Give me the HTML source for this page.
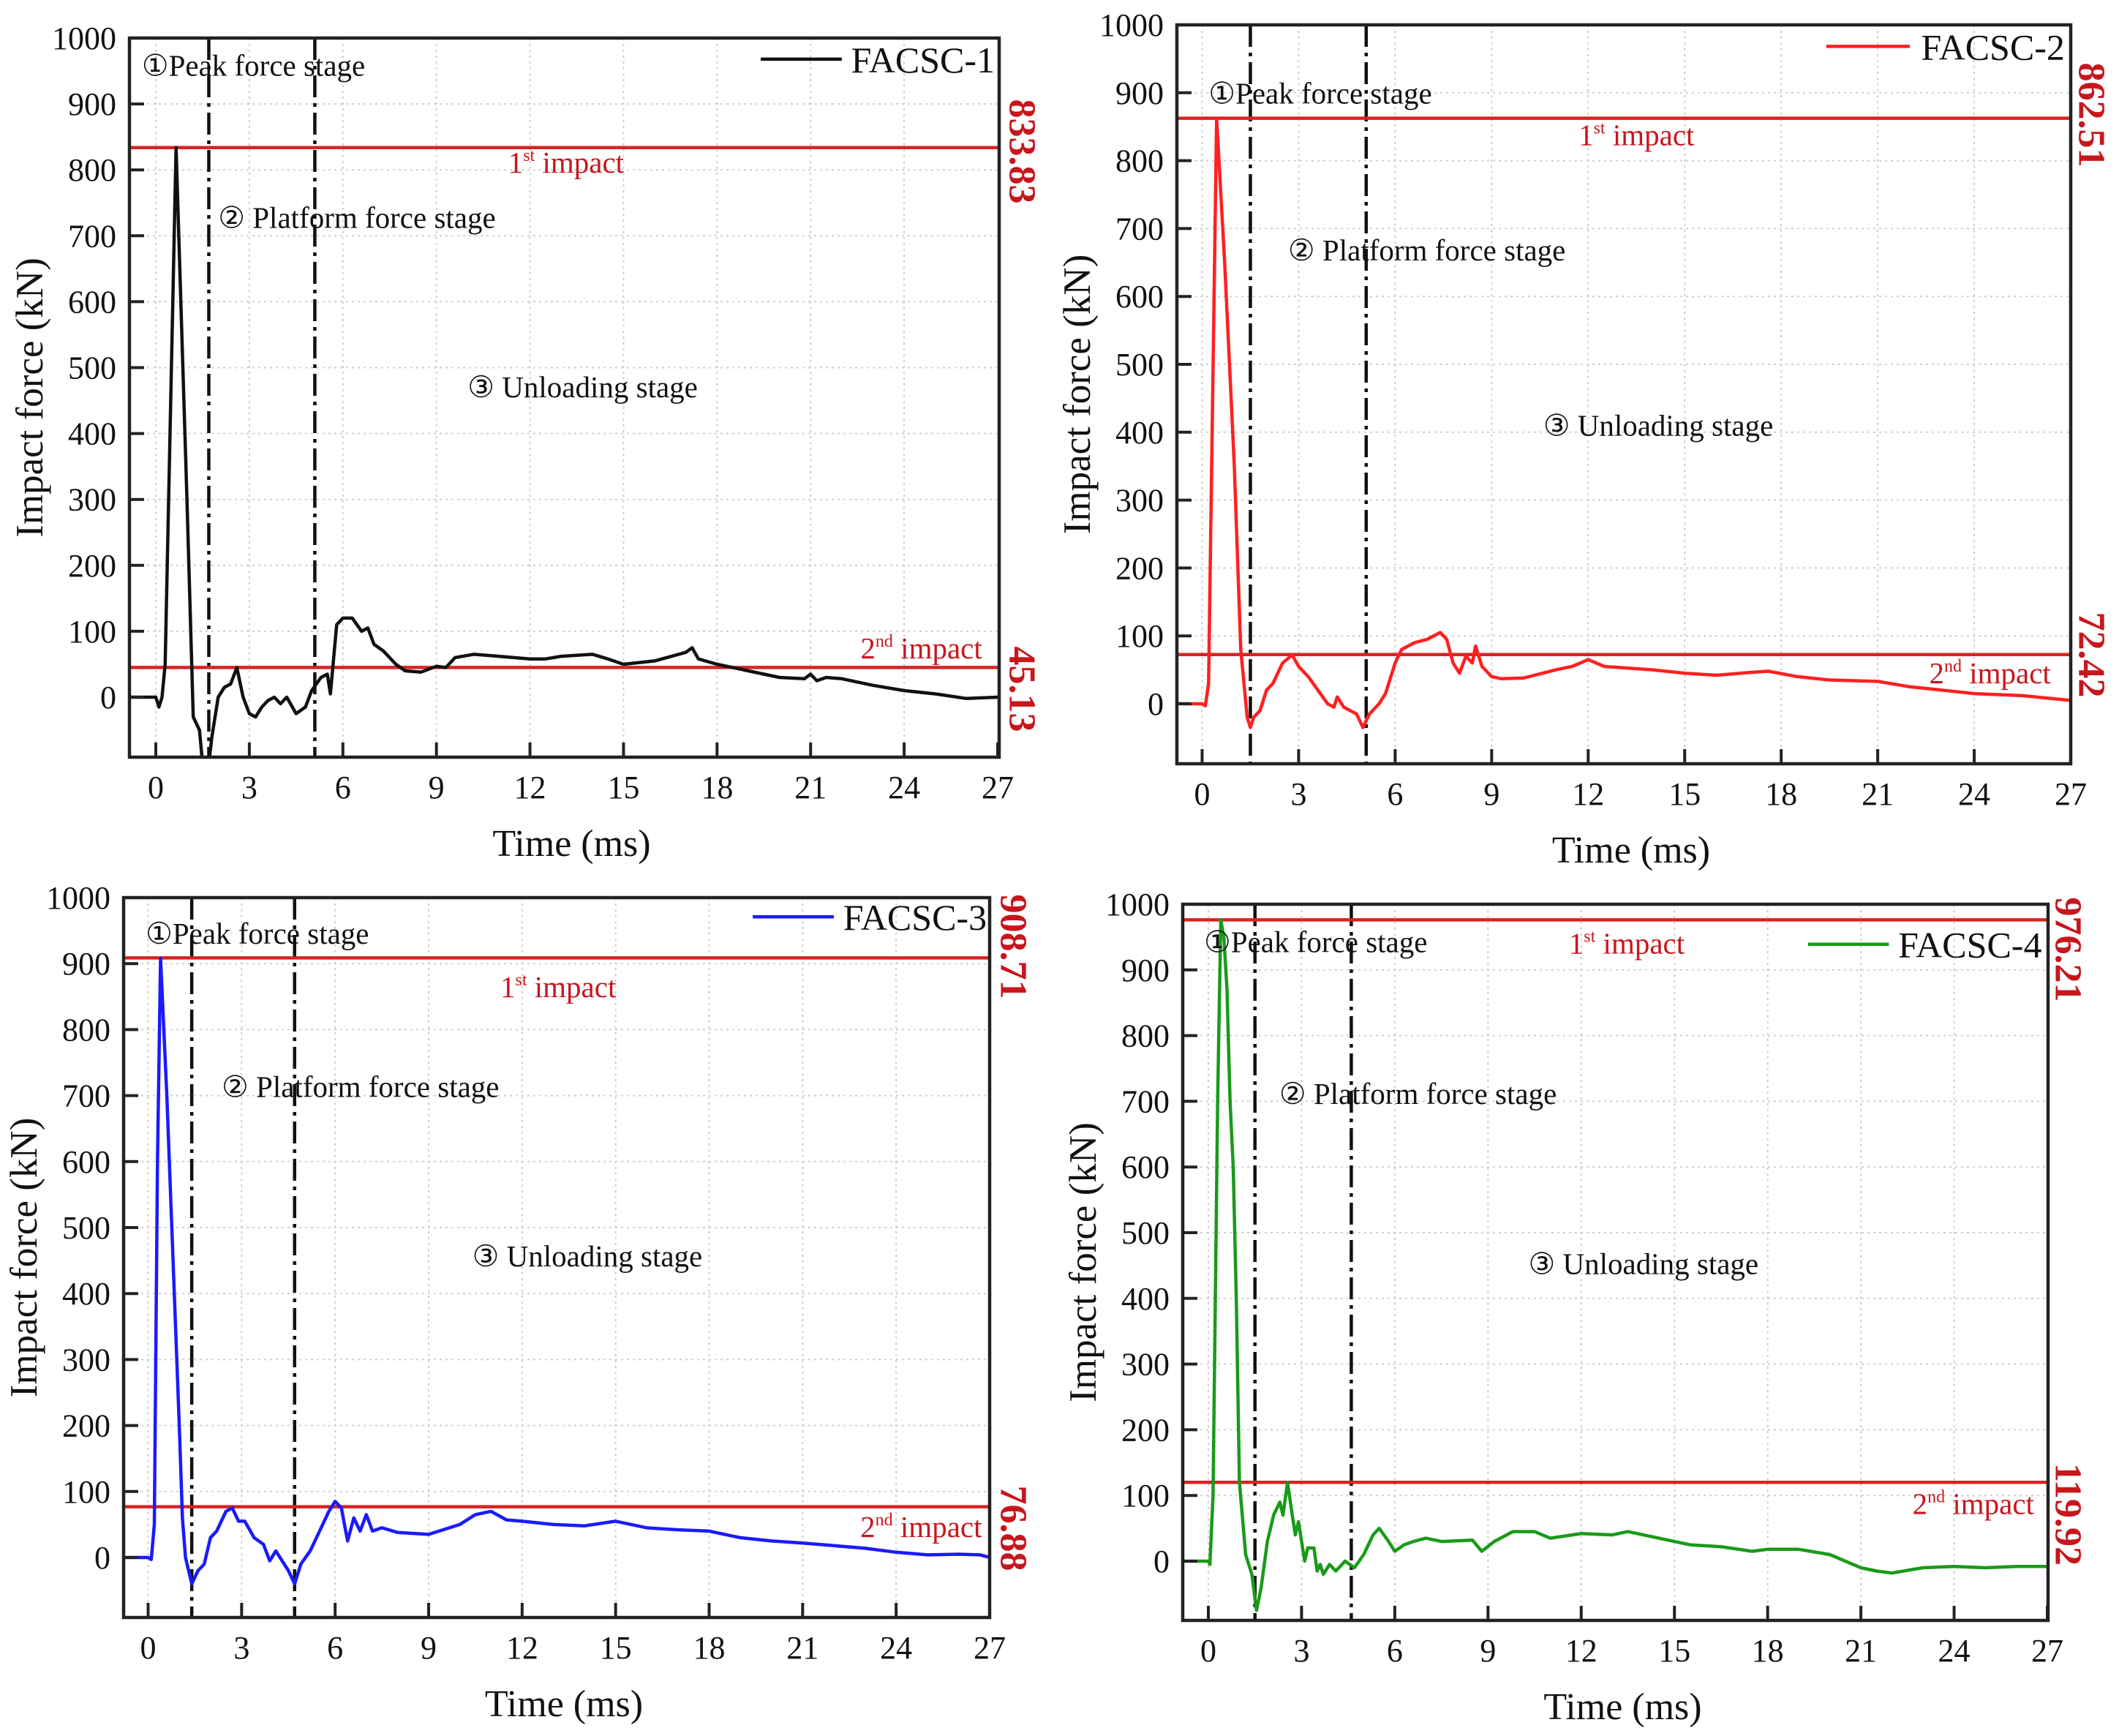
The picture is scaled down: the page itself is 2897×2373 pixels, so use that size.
<!DOCTYPE html>
<html><head><meta charset="utf-8"><style>
html,body{margin:0;padding:0;background:#fff;overflow:hidden}
svg{display:block}
text{font-family:"Liberation Serif","DejaVu Serif",serif}
</style></head><body>
<svg id="chart" xmlns="http://www.w3.org/2000/svg" width="2897" height="2373" viewBox="0 0 2897 2373"></svg>
<script>
// ---- data ----
const xTicks = [0,3,6,9,12,15,18,21,24,27];
const yTicks = [0,100,200,300,400,500,600,700,800,900,1000];
const names = ["FACSC-1","FACSC-2","FACSC-3","FACSC-4"];
const colors = ["#111111","#ff2020","#1a1aff","#1a9a1a"];
const impact1 = [833.83, 862.51, 908.71, 976.21];
const impact2 = [45.13, 72.42, 76.88, 119.92];
const stageLines = [[1.7,5.1],[1.5,5.1],[1.4,4.7],[1.5,4.6]];

const t1 = [-0.8,0,0.1,0.2,0.3,0.65,1.0,1.2,1.4,1.5,1.7,1.8,2.0,2.2,2.4,2.6,2.8,3.0,3.2,3.4,3.6,3.8,4.0,4.2,4.5,4.8,5.0,5.3,5.5,5.6,5.8,6.0,6.3,6.6,6.8,7.0,7.3,7.7,8.0,8.5,9.0,9.3,9.6,10.2,11,12,12.5,13,14,14.5,15,16,17,17.2,17.4,18,19,20,20.8,21,21.2,21.5,22,23,24,25,26,27];
const f1 = [0,0,-15,0,50,834,300,-30,-50,-100,-100,-60,0,15,20,45,0,-25,-30,-15,-5,0,-10,0,-25,-15,10,30,35,5,110,120,120,100,105,80,70,50,40,38,47,45,60,65,62,58,58,62,65,58,50,55,68,75,58,50,40,30,28,35,25,30,28,18,10,5,-2,0];

const t2 = [-0.8,0,0.1,0.2,0.45,0.7,1.0,1.2,1.4,1.5,1.6,1.8,2.0,2.2,2.5,2.8,3.0,3.3,3.6,3.9,4.1,4.2,4.4,4.6,4.8,5.0,5.2,5.5,5.7,6.0,6.2,6.6,7.0,7.4,7.6,7.8,8.0,8.2,8.4,8.5,8.7,9.0,9.3,10,11,11.5,12,12.5,14,15,16,17,17.6,18.5,19.5,21,22,23,24,25.5,27];
const f2 = [0,0,-3,30,862,650,350,80,-20,-35,-20,-10,20,30,60,72,55,40,20,0,-5,10,-5,-10,-15,-35,-15,0,15,60,80,90,95,105,95,60,45,70,60,85,55,40,37,38,50,55,65,55,50,45,42,46,48,40,35,33,25,20,15,12,5];

const t3 = [-0.8,0,0.1,0.2,0.3,0.4,0.6,0.8,1.0,1.1,1.2,1.4,1.6,1.8,2.0,2.2,2.5,2.7,2.9,3.1,3.4,3.7,3.9,4.1,4.3,4.5,4.7,4.9,5.2,5.5,5.8,6.0,6.2,6.4,6.6,6.8,7.0,7.2,7.5,8,9,10,10.5,11,11.5,12,13,14,15,16,17,18,19,20,21,22,23,24,25,26,26.7,27];
const f3 = [0,0,-3,50,600,908,700,450,200,60,0,-40,-20,-10,30,40,70,75,55,55,30,20,-5,10,-5,-20,-40,-10,10,40,70,85,75,25,60,40,65,40,45,38,35,50,65,70,57,55,50,48,55,45,42,40,30,25,22,18,14,8,4,5,4,0];

const t4 = [-0.8,0,0.05,0.15,0.3,0.4,0.5,0.6,0.7,0.8,0.9,1.0,1.2,1.4,1.55,1.7,1.9,2.1,2.3,2.4,2.55,2.7,2.8,2.9,3.1,3.2,3.4,3.5,3.6,3.7,3.9,4.1,4.4,4.7,5.0,5.3,5.5,5.8,6.0,6.3,6.6,7.0,7.5,8.5,8.8,9.2,9.8,10.5,11,12,13,13.5,14,15,15.5,16.5,17.5,18,19,20,21,21.5,22,23,24,25,26,27];
const f4 = [0,0,-5,100,700,976,950,870,700,600,400,120,10,-20,-75,-40,30,70,90,70,120,70,40,60,0,20,20,-15,-5,-20,-5,-15,0,-10,10,40,50,30,15,25,30,35,30,32,15,30,45,45,35,42,40,45,40,30,25,22,15,18,18,10,-10,-15,-18,-10,-8,-10,-8,-8];

const seriesT = [t1,t2,t3,t4];
const seriesF = [f1,f2,f3,f4];

// ---- layout (pixel geometry) ----
const panels = [
  {L:177,R:1366,T:52,B:1035,x0:213,x27:1364,y0:953,y1000:52, valX:1397, v1Y:207, v2Y:942,
   ann:{peak:[-0.45,943],plat:[2.0,712],unl:[10.0,455],i1:[11.3,796],i2:[22.6,59],leg:[22.3,948],legL:[19.4,22.0]}},
  {L:1609,R:2831,T:34,B:1044,x0:1643.5,x27:2831,y0:962,y1000:34, valX:2859, v1Y:157, v2Y:895,
   ann:{peak:[0.2,884],plat:[2.67,653],unl:[10.6,395],i1:[11.7,823],i2:[22.6,30],leg:[22.35,949],legL:[19.4,22.0]}},
  {L:169,R:1353,T:1227,B:2211,x0:202.5,x27:1353,y0:2129,y1000:1227, valX:1385, v1Y:1294, v2Y:2089,
   ann:{peak:[-0.08,930],plat:[2.36,698],unl:[10.4,441],i1:[11.3,849],i2:[22.85,31],leg:[22.3,951],legL:[19.4,22.0]}},
  {L:1617,R:2800,T:1236,B:2215,x0:1652,x27:2799,y0:2134,y1000:1236, valX:2827, v1Y:1298, v2Y:2070,
   ann:{peak:[-0.14,927],plat:[2.28,696],unl:[10.3,437],i1:[11.6,925],i2:[22.66,72],leg:[22.2,919],legL:[19.3,21.9]}}
];

const NS = "http://www.w3.org/2000/svg";
const svg = document.getElementById("chart");
function mk(tag, attrs, parent){
  const e = document.createElementNS(NS, tag);
  for (const k in attrs) e.setAttribute(k, attrs[k]);
  (parent||svg).appendChild(e);
  return e;
}
const defs = mk("defs", {});

panels.forEach((p, i) => {
  const sx = t => p.x0 + (t/27)*(p.x27 - p.x0);
  const sy = v => p.y0 - (v/1000)*(p.y0 - p.y1000);
  const cp = mk("clipPath", {id:"clip"+i}, defs);
  mk("rect", {x:p.L, y:p.T, width:p.R-p.L, height:p.B-p.T}, cp);

  const g = mk("g", {});
  
  

  yTicks.forEach(v => {
    if (v === 0 || v === 1000) return;
    const l = mk("line", {x1:p.L, x2:p.R, y1:sy(v), y2:sy(v), stroke:"#cfcfcf", "stroke-width":2, "stroke-dasharray":"3,5"}, g);
    
    
  });
  xTicks.forEach(t => {
    if (t === 27) return;
    const l = mk("line", {x1:sx(t), x2:sx(t), y1:p.T, y2:p.B, stroke:"#cfcfcf", "stroke-width":2, "stroke-dasharray":"3,5"}, g);
    
    
  });

  stageLines[i].forEach(t => {
    const l = mk("line", {x1:sx(t), x2:sx(t), y1:p.T, y2:p.B, stroke:"#111", "stroke-width":4.5, "stroke-dasharray":"30,8,5,8"}, g);
    
    
  });

  [impact1[i], impact2[i]].forEach((v, k) => {
    const l = mk("line", {x1:p.L, x2:p.R, y1:sy(v), y2:sy(v), stroke:"#d92323", "stroke-width":4.5}, g);
    
    
  });

  const T = seriesT[i], F = seriesF[i];
  let d = "";
  for (let j = 0; j < T.length; j++) d += (j ? "L" : "M") + sx(T[j]).toFixed(1) + "," + sy(F[j]).toFixed(1);
  const path = mk("path", {d:d, fill:"none", stroke:colors[i], "stroke-width":4.5, "stroke-linejoin":"round", "clip-path":"url(#clip"+i+")"}, g);
  
  

  const fr = mk("rect", {x:p.L, y:p.T, width:p.R-p.L, height:p.B-p.T, fill:"none", stroke:"#222", "stroke-width":4.5}, g);
  
  

  xTicks.forEach(t => {
    const tk = mk("line", {x1:sx(t), x2:sx(t), y1:p.B, y2:p.B-20, stroke:"#222", "stroke-width":4}, g);
    
    
    const tx = mk("text", {x:sx(t), y:p.B+56, "font-size":44, "text-anchor":"middle", fill:"#111"}, g);
    tx.textContent = t;
    
    
  });
  yTicks.forEach(v => {
    const tk = mk("line", {x1:p.L, x2:p.L+20, y1:sy(v), y2:sy(v), stroke:"#222", "stroke-width":4}, g);
    
    
    const tx = mk("text", {x:p.L-18, y:sy(v)+15, "font-size":44, "text-anchor":"end", fill:"#111"}, g);
    tx.textContent = v;
    
    
  });

  const xt = mk("text", {x:(p.L+p.R)/2+10, y:p.B+135, "font-size":52, "text-anchor":"middle", fill:"#111"}, g);
  xt.textContent = "Time (ms)";
  
  
  const cy = (p.T+p.B)/2;
  const yx = p.L-136;
  const yt = mk("text", {x:yx, y:cy, "font-size":53, "text-anchor":"middle", "dominant-baseline":"central", fill:"#111", transform:"rotate(-90 "+yx+" "+cy+")"}, g);
  yt.textContent = "Impact force (kN)";
  
  

  const a = p.ann;
  const ann = (key, txt, name) => {
    const e = mk("text", {x:sx(a[key][0]), y:sy(a[key][1]), "font-size":41, fill:"#111"}, g);
    e.textContent = txt;
    
    
  };
  ann("peak", "\u2460Peak force stage", "peak-force-stage-label");
  ann("plat", "\u2461 Platform force stage", "platform-force-stage-label");
  ann("unl", "\u2462 Unloading stage", "unloading-stage-label");

  const i1 = mk("text", {x:sx(a.i1[0]), y:sy(a.i1[1]), "font-size":41, fill:"#c8161d"}, g);
  i1.innerHTML = '1<tspan font-size="24" dy="-16">st</tspan><tspan dy="16"> impact</tspan>';
  
  
  const i2 = mk("text", {x:sx(a.i2[0]), y:sy(a.i2[1]), "font-size":41, fill:"#c8161d"}, g);
  i2.innerHTML = '2<tspan font-size="24" dy="-16">nd</tspan><tspan dy="16"> impact</tspan>';
  
  

  const ll = mk("line", {x1:sx(a.legL[0]), x2:sx(a.legL[1]), y1:sy(a.leg[1])-18, y2:sy(a.leg[1])-18, stroke:colors[i], "stroke-width":4.5}, g);
  
  
  const lt = mk("text", {x:sx(a.leg[0]), y:sy(a.leg[1]), "font-size":50, fill:"#111"}, g);
  lt.textContent = names[i];
  
  

  [[impact1[i], p.v1Y], [impact2[i], p.v2Y]].forEach(([v, y], k) => {
    const e = mk("text", {x:p.valX, y:y, "font-size":52, "font-weight":"bold", fill:"#c8161d", "text-anchor":"middle", "dominant-baseline":"central", transform:"rotate(90 "+p.valX+" "+y+")"}, g);
    e.textContent = v.toFixed(2);
    
    
  });
});
</script>
</body></html>
